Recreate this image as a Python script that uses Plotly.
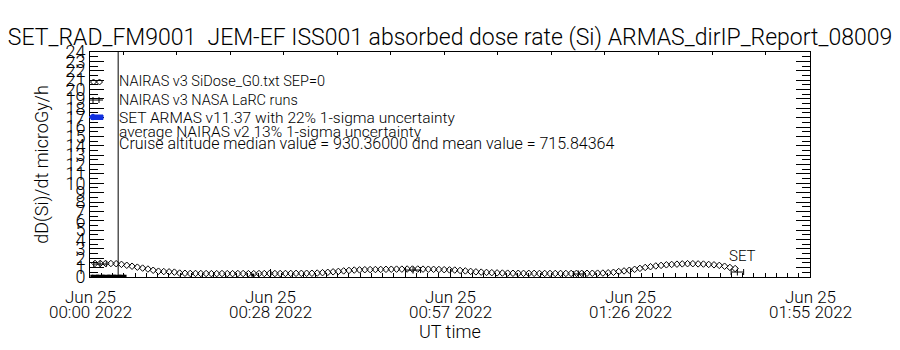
import plotly.graph_objects as go

# Minutes after 2022-06-25 00:00 UT
T_START = 0.8
T_STEP = 0.845

# NAIRAS v3 SiDose_G0 dose rate (microGy/h), one value per sample
nairas_v3 = [
    1.45, 1.45, 1.45, 1.44, 1.42, 1.35, 1.25, 1.15, 1.05, 0.95,
    0.85, 0.72, 0.62, 0.58, 0.55, 0.52, 0.42, 0.40, 0.38, 0.38,
    0.37, 0.37, 0.36, 0.36, 0.37, 0.36, 0.36, 0.37, 0.37, 0.36,
    0.36, 0.37, 0.37, 0.38, 0.37, 0.37, 0.38, 0.38, 0.39, 0.39,
    0.40, 0.40, 0.42, 0.46, 0.50, 0.55, 0.60, 0.65, 0.70, 0.74,
    0.76, 0.78, 0.79, 0.80, 0.81, 0.82, 0.83, 0.84, 0.84, 0.85,
    0.85, 0.85, 0.84, 0.83, 0.82, 0.80, 0.78, 0.76, 0.74, 0.70,
    0.65, 0.60, 0.55, 0.52, 0.49, 0.46, 0.44, 0.42, 0.41, 0.40,
    0.40, 0.39, 0.39, 0.39, 0.38, 0.38, 0.38, 0.38, 0.38, 0.38,
    0.38, 0.39, 0.39, 0.40, 0.40, 0.41, 0.42, 0.45, 0.50, 0.58,
    0.65, 0.72, 0.82, 0.92, 1.02, 1.10, 1.18, 1.24, 1.30, 1.34,
    1.37, 1.40, 1.42, 1.42, 1.40, 1.38, 1.34, 1.30, 1.24, 1.15,
    1.02, 0.90,
]
nairas_t = [T_START + i * T_STEP for i in range(len(nairas_v3))]

# NAIRAS v3 NASA LaRC runs (None breaks the line between runs)
larc_t = [0.3, 1.2, 2.1, 3.0, 3.9, 4.8, 5.6, None, 26.0]
larc_v = [0.08, 0.08, 0.08, 0.08, 0.08, 0.08, 0.08, None, 0.20]

# Averaged NAIRAS v2 points with 13% uncertainty
avg_t = [1.6, 51.6, 78.0]
avg_v = [1.38, 0.74, 0.32]
avg_err = [1.0, 1.2, 0.8]

# SET ARMAS measurement
set_t = [103.4]
set_v = [0.53]
set_err = [1.0]

# Reference line (UT minutes)
marker_line_t = 4.5

# Axis labels
x_tickvals = [0, 28.75, 57.5, 86.25, 115]
x_tickdate = ["Jun 25", "Jun 25", "Jun 25", "Jun 25", "Jun 25"]
x_ticktime = ["00:00 2022", "00:28 2022", "00:57 2022", "01:26 2022", "01:55 2022"]
y_tickvals = list(range(0, 25))
y_ticktext = [str(v) for v in y_tickvals]

legend_lines = [
    "NAIRAS v3 SiDose_G0.txt SEP=0",
    "NAIRAS v3 NASA LaRC runs",
    "SET ARMAS v11.37 with 22% 1-sigma uncertainty",
    "average NAIRAS v2 13% 1-sigma uncertainty",
    "Cruise altitude median value = 930.36000 dnd mean value = 715.84364",
]
legend_px = [81, 100, 118, 132, 143]
legend_size = [14.5, 14.5, 15.5, 15.5, 16]

FONT = "Roboto"
WGT = 300
W, H = 900, 350
ML, MR, MT, MB = 90, 90, 52, 73
PW, PH = W - ML - MR, H - MT - MB


def fnt(size):
    return dict(family=FONT, size=size, color="black", weight=WGT)


def px_x(p):
    return (p - ML) / PW


def px_y(p):
    return (H - MB - p) / PH


fig = go.Figure()

fig.add_trace(go.Scatter(
    x=nairas_t, y=nairas_v3, mode="markers",
    marker=dict(symbol="diamond-open", size=5, color="black", line=dict(width=1)),
    showlegend=False, cliponaxis=False))

fig.add_trace(go.Scatter(
    x=larc_t, y=larc_v, mode="lines+markers", connectgaps=False,
    line=dict(color="black", width=3),
    marker=dict(symbol="square", size=3, color="black"),
    showlegend=False))

fig.add_trace(go.Scatter(
    x=avg_t, y=avg_v, mode="markers",
    marker=dict(symbol="line-ns-open", size=5, color="black", line=dict(width=1)),
    error_x=dict(type="data", array=avg_err, color="black", thickness=1, width=3),
    showlegend=False))

fig.add_trace(go.Scatter(
    x=set_t, y=set_v, mode="markers",
    marker=dict(symbol="line-ns-open", size=5, color="black", line=dict(width=1)),
    error_x=dict(type="data", array=set_err, color="black", thickness=1, width=3),
    showlegend=False))

# Top-edge ticks on an overlay axis
fig.add_trace(go.Scatter(x=[0, 115], y=[0, 0], xaxis="x2", mode="none",
                         showlegend=False, hoverinfo="skip"))

fig.add_annotation(x=set_t[0] + 0.8, y=set_v[0] + 1.7, text="SET", showarrow=False,
                   font=fnt(15))

# Two-line date/time labels under each major tick
for tv, d, tm in zip(x_tickvals, x_tickdate, x_ticktime):
    fig.add_annotation(x=tv, xref="x", y=px_y(297), yref="paper", text=d,
                       showarrow=False, yanchor="middle", font=fnt(17))
    fig.add_annotation(x=tv, xref="x", y=px_y(312), yref="paper", text=tm,
                       showarrow=False, yanchor="middle", font=fnt(17))
fig.add_annotation(x=0.5, xref="paper", y=px_y(331), yref="paper", text="UT time",
                   showarrow=False, yanchor="middle", font=fnt(18))

shapes = [dict(type="line", xref="x", yref="paper", x0=marker_line_t, x1=marker_line_t,
               y0=0, y1=1, line=dict(color="black", width=1))]

# Legend glyphs drawn at the left edge
for cx in (93.5, 99.5):
    shapes.append(dict(
        type="path", xref="paper", yref="paper",
        path=(f"M {px_x(cx-3)} {px_y(82)} L {px_x(cx)} {px_y(79)} "
              f"L {px_x(cx+3)} {px_y(82)} L {px_x(cx)} {px_y(85)} Z"),
        line=dict(color="black", width=1)))
shapes.append(dict(type="line", xref="paper", yref="paper", x0=px_x(90), x1=px_x(103),
                   y0=px_y(100), y1=px_y(100), line=dict(color="black", width=1)))
for cx in (93, 99):
    shapes.append(dict(type="line", xref="paper", yref="paper", x0=px_x(cx), x1=px_x(cx),
                       y0=px_y(97), y1=px_y(103), line=dict(color="black", width=1)))
shapes.append(dict(type="rect", xref="paper", yref="paper", x0=px_x(91), x1=px_x(103),
                   y0=px_y(119.5), y1=px_y(115), fillcolor="#1030e0",
                   line=dict(color="#1030e0", width=1)))
shapes.append(dict(
    type="path", xref="paper", yref="paper",
    path=(f"M {px_x(89)} {px_y(117)} L {px_x(93)} {px_y(114)} "
          f"L {px_x(97)} {px_y(117)} L {px_x(93)} {px_y(120)} Z"),
    fillcolor="#1030e0", line=dict(color="#1030e0", width=1)))

for txt, yy, sz in zip(legend_lines, legend_px, legend_size):
    fig.add_annotation(xref="paper", yref="paper", x=px_x(117), y=px_y(yy), text=txt,
                       showarrow=False, xanchor="left", yanchor="middle",
                       font=fnt(sz))

fig.update_layout(
    width=W, height=H,
    margin=dict(l=ML, r=MR, t=MT, b=MB),
    paper_bgcolor="white", plot_bgcolor="white",
    shapes=shapes,
    title=dict(text="SET_RAD_FM9001  JEM-EF ISS001 absorbed dose rate (Si) ARMAS_dirIP_Report_08009",
               x=0.5, xanchor="center", y=1 - 37 / H, yanchor="middle",
               font=fnt(23)),
    xaxis=dict(range=[0, 115], tickmode="array", tickvals=x_tickvals, showticklabels=False,
               ticks="inside", ticklen=8, tickcolor="black", showgrid=False, zeroline=False,
               showline=True, linecolor="black", linewidth=1, mirror=True,
               minor=dict(dtick=28.75 / 16, tick0=0, ticks="inside", ticklen=4,
                          tickcolor="black", showgrid=False)),
    xaxis2=dict(range=[0, 115], overlaying="x", side="top", tick0=5.3, dtick=8.55,
                ticks="inside", ticklen=3, tickcolor="black", showticklabels=False,
                showgrid=False, zeroline=False, showline=False),
    yaxis=dict(range=[0, 24], tickmode="array", tickvals=y_tickvals, ticktext=y_ticktext,
               ticks="inside", ticklen=14, tickcolor="black", showgrid=False, zeroline=False,
               showline=True, linecolor="black", linewidth=1, mirror="ticks",
               minor=dict(dtick=0.5, tick0=0, ticks="inside", ticklen=8,
                          tickcolor="black", showgrid=False),
               tickfont=fnt(18),
               title=dict(text="dD(Si)/dt microGy/h", standoff=12, font=fnt(18))),
)

fig.write_html("out.html")
